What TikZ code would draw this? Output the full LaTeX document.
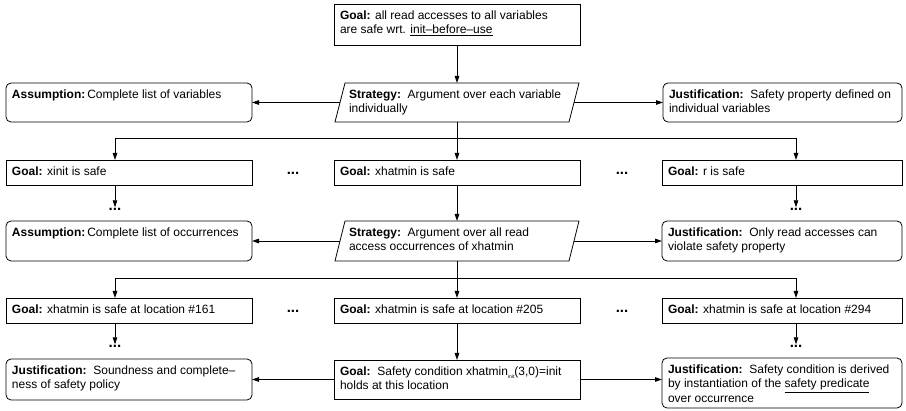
\documentclass[tikz,border=0pt]{standalone}
\usepackage{fontspec}
\setmainfont{Liberation Sans}
\usetikzlibrary{arrows.meta,calc}
\newcommand{\bxc}[3]{\parbox[c][#2][t]{#1}{\raggedright\rule{0pt}{15.5pt}#3}}
\begin{document}
\begin{tikzpicture}[x=1pt,y=-1pt,font=\fontsize{12}{14.5}\selectfont,
  base/.style={anchor=north west,inner xsep=6pt,inner ysep=0pt,outer sep=0pt,line width=0.8pt},
  goal/.style={base,draw},
  rbox/.style={base,draw,rounded corners=5pt},
  strat/.style={base,inner xsep=9pt},
  para/.style={line width=0.8pt},
  arr/.style={-{Triangle[length=7pt,width=4.5pt]},line width=0.8pt},
  ln/.style={line width=0.8pt},
  dots/.style={font=\fontsize{15}{15}\selectfont\bfseries,inner sep=0pt,text height=3pt,text depth=0pt}]
\useasboundingbox (0,0) rectangle (906,411);
% row 1
\node[goal] (g0) at (334,4) {\bxc{234pt}{41pt}{\mbox{\textbf{Goal:} all read accesses to all variables}\\\mbox{are safe wrt. \underline{init–before–use}}}};
% row 2
\node[rbox] (a1) at (6,83) {\bxc{234pt}{39pt}{\mbox{\textbf{Assumption:}\hspace{2pt}Complete list of variables}}};
\node[strat] (st1) at (340,83) {\bxc{216pt}{39pt}{\mbox{\textbf{Strategy:}\ \ Argument over each variable}\\\mbox{individually}}};
\draw[para] ([xshift=5pt]st1.north west) -- ([xshift=5pt]st1.north east) -- ([xshift=-5pt]st1.south east) -- ([xshift=-5pt]st1.south west) -- cycle;
\node[rbox] (j1) at (663,83) {\bxc{227pt}{39pt}{\mbox{\textbf{Justification:}\ \ Safety property defined on}\\\mbox{individual variables}}};
% row 3
\node[goal] (g1) at (6,160) {\bxc{234pt}{25pt}{\mbox{\textbf{Goal:} xinit is safe}}};
\node[goal] (g2) at (334,160) {\bxc{234pt}{25pt}{\mbox{\textbf{Goal:} xhatmin is safe}}};
\node[goal] (g3) at (662,160) {\bxc{228pt}{25pt}{\mbox{\textbf{Goal:} r is safe}}};
\node[dots] (d2) at (293,173) {...};
\node[dots] (d3) at (622,173) {...};
\node[dots] (d1) at (115,209) {...};
\node[dots] (d4) at (796,209) {...};
% row 4
\node[rbox] (a2) at (6,221) {\bxc{234pt}{40pt}{\mbox{\textbf{Assumption:}\hspace{2pt}Complete list of occurrences}}};
\node[strat] (st2) at (340,221) {\bxc{216pt}{40pt}{\mbox{\textbf{Strategy:}\ \ Argument over all read}\\\mbox{access occurrences of xhatmin}}};
\draw[para] ([xshift=5pt]st2.north west) -- ([xshift=5pt]st2.north east) -- ([xshift=-5pt]st2.south east) -- ([xshift=-5pt]st2.south west) -- cycle;
\node[rbox] (j2) at (662,221) {\bxc{228pt}{40pt}{\mbox{\textbf{Justification:}\ \ Only read accesses can}\\\mbox{violate safety property}}};
% row 5
\node[goal] (g4) at (6,298) {\bxc{234pt}{25pt}{\mbox{\textbf{Goal:} xhatmin is safe at location \#161}}};
\node[goal] (g5) at (334,298) {\bxc{234pt}{25pt}{\mbox{\textbf{Goal:} xhatmin is safe at location \#205}}};
\node[goal] (g6) at (662,298) {\bxc{228pt}{25pt}{\mbox{\textbf{Goal:} xhatmin is safe at location \#294}}};
\node[dots] (d5) at (293,311) {...};
\node[dots] (d6) at (622,311) {...};
\node[dots] (d7) at (115,346) {...};
\node[dots] (d8) at (796,346) {...};
% row 6
\node[rbox] (j3) at (6,359) {\bxc{234pt}{41pt}{\mbox{\textbf{Justification:}\ \ Soundness and complete–}\\\mbox{ness of safety policy}}};
\node[goal] (g7) at (334,360) {\bxc{234pt}{39pt}{\mbox{\textbf{Goal:}\ \ Safety condition xhatmin\raisebox{-3pt}{\fontsize{5}{5}\selectfont init}(3,0)=init}\\\mbox{holds at this location}}};
\node[rbox] (j4) at (662,358) {\bxc{228pt}{50pt}{\mbox{\textbf{Justification:}\ \ Safety condition is derived}\\\mbox{by instantiation of the \underline{safety predicate}}\\\mbox{over occurrence}}};
% connectors
\draw[arr] (g0) -- (st1);
\draw[arr] (st1) -- (a1);
\draw[arr] (st1) -- (j1);
\coordinate (b1) at (457,138);
\coordinate (b1l) at (115,138);
\coordinate (b1r) at (796,138);
\draw[ln] (st1.south) -- (b1);
\draw[ln] (b1l) -- (b1r);
\draw[arr] (b1) -- (g2);
\draw[arr] (b1l) -- (b1l |- g1.north);
\draw[arr] (b1r) -- (b1r |- g3.north);
\draw[arr] (b1l |- g1.south) -- (d1);
\draw[arr] (b1r |- g3.south) -- (d4);
\draw[arr] (g2) -- (st2);
\draw[arr] (st2) -- (a2);
\draw[arr] (st2) -- (j2);
\coordinate (b2) at (457,278);
\coordinate (b2l) at (115,278);
\coordinate (b2r) at (796,278);
\draw[ln] (st2.south) -- (b2);
\draw[ln] (b2l) -- (b2r);
\draw[arr] (b2) -- (g5);
\draw[arr] (b2l) -- (b2l |- g4.north);
\draw[arr] (b2r) -- (b2r |- g6.north);
\draw[arr] (b2l |- g4.south) -- (d7);
\draw[arr] (b2r |- g6.south) -- (d8);
\draw[arr] (g5) -- (g7);
\draw[arr] (g7) -- (j3);
\draw[arr] (g7.east) -- (g7.east -| j4.west);
\end{tikzpicture}
\end{document}
